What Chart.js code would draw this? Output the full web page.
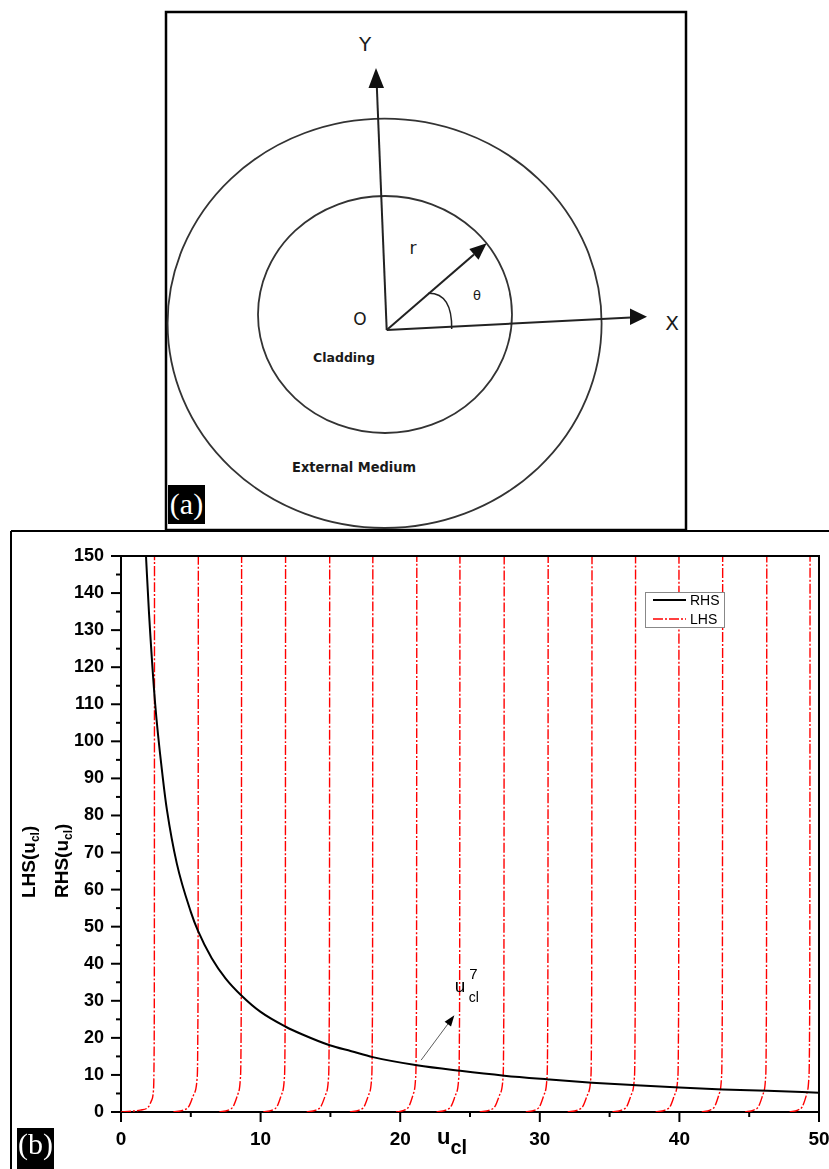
<!DOCTYPE html>
<html lang="en">
<head>
<meta charset="UTF-8">
<title>Cladding geometry and LHS / RHS of the dispersion equation</title>
<script src="https://cdn.jsdelivr.net/npm/chart.js"></script>
<style>
  body { margin: 0; background: #fff; }
  #page { position: relative; width: 829px; height: 1169px; overflow: hidden; }
  #figA, #overlay { position: absolute; left: 0; top: 0; }
  #overlay { pointer-events: none; }
  #chartBox { position: absolute; left: 0; top: 531px; width: 829px; height: 638px; }
  .diag { font-family: "DejaVu Sans", sans-serif; fill: #1a1a1a; }
</style>
</head>
<body>
<div id="page">
  <!-- panel (a): fibre cross section -->
  <svg id="figA" width="829" height="1169">
    <rect x="166" y="12" width="520" height="518" fill="none" stroke="#000" stroke-width="2.5"/>
    <line x1="11" y1="531" x2="829" y2="531" stroke="#000" stroke-width="2"/>
    <line x1="11" y1="531" x2="11" y2="1169" stroke="#000" stroke-width="2"/>

    <ellipse cx="384.6" cy="323.3" rx="217" ry="204.7" fill="none" stroke="#333" stroke-width="1.8"/>
    <ellipse cx="385" cy="314.5" rx="127" ry="118.5" fill="none" stroke="#333" stroke-width="1.8"/>

    <g stroke="#222" stroke-width="2" fill="#111">
      <line x1="386.7" y1="330" x2="376.8" y2="86"/>
      <polygon points="376,68 368.5,88 384,88" stroke="none"/>
      <line x1="386.7" y1="330" x2="631" y2="317.6"/>
      <polygon points="647,316.7 630,308.5 630,325" stroke="none"/>
      <line x1="386.7" y1="330" x2="474" y2="254.4"/>
      <polygon points="486.7,243.3 478.5,259.7 469.3,249.1" stroke="none"/>
      <path d="M 428.3 293.3 C 445 293 452 306 451.7 329" fill="none" stroke-width="1.5"/>
    </g>

    <text class="diag" x="365" y="51" font-size="20" text-anchor="middle">Y</text>
    <text class="diag" x="672" y="330" font-size="20" text-anchor="middle">X</text>
    <text class="diag" x="360" y="324.5" font-size="17" text-anchor="middle">O</text>
    <text class="diag" x="413" y="254" font-size="17" text-anchor="middle">r</text>
    <text class="diag" x="477" y="300" font-size="13" text-anchor="middle">θ</text>
    <text class="diag" x="313" y="362" font-size="13" font-weight="bold" textLength="62" lengthAdjust="spacingAndGlyphs">Cladding</text>
    <text class="diag" x="292" y="472" font-size="13.5" font-weight="bold" textLength="124" lengthAdjust="spacingAndGlyphs">External Medium</text>

    <rect x="168" y="485" width="37" height="39" fill="#000"/>
    <text x="186.5" y="514" font-family="Liberation Serif, serif" font-size="30" fill="#fff" text-anchor="middle">(a)</text>
  </svg>

  <!-- panel (b): the chart -->
  <div id="chartBox"><canvas id="dispChart" width="829" height="638"></canvas></div>

  <svg id="overlay" width="829" height="1169">
    <rect x="17" y="1128" width="37" height="41" fill="#000"/>
    <text x="35.5" y="1154" font-family="Liberation Serif, serif" font-size="30" fill="#fff" text-anchor="middle">(b)</text>
  </svg>
</div>

<script>
// RHS(u_cl)
const rhsX = [1.79, 2.0, 2.45, 3.0, 3.29, 4.0, 5.0, 5.5, 6.5, 7.5, 8.66, 10.0, 11.8, 13.0, 14.95, 16.5, 18.04,
              21.2, 24.3, 27.45, 30.6, 33.74, 36.9, 40.0, 43.1, 46.3, 50.0];
const rhsY = [150, 135, 110, 90, 81.5, 67, 54, 49, 41.5, 36, 31.3, 27, 23, 20.9, 18, 16.4, 14.8,
              12.6, 11.1, 9.8, 8.8, 7.9, 7.2, 6.6, 6.1, 5.7, 5.2];

// LHS(u_cl): one rising branch per pole, drawn up to the top of the axis
const lhsBranchX = [
  [0, 0.7, 1.38, 1.97, 2.2, 2.33, 2.37, 2.39, 2.40],
  [3.75, 4.47, 4.86, 5.25, 5.45, 5.50, 5.525, 5.54],
  [7.05, 7.69, 8.04, 8.39, 8.55, 8.60, 8.625, 8.64],
  [10.19, 10.83, 11.18, 11.53, 11.70, 11.75, 11.775, 11.79],
  [13.30, 13.96, 14.32, 14.69, 14.86, 14.91, 14.935, 14.95],
  [16.40, 17.06, 17.42, 17.78, 17.95, 18.00, 18.025, 18.04],
  [19.70, 20.30, 20.62, 20.95, 21.10, 21.15, 21.175, 21.19],
  [22.60, 23.27, 23.64, 24.01, 24.19, 24.24, 24.265, 24.28],
  [25.70, 26.40, 26.79, 27.17, 27.36, 27.41, 27.435, 27.45],
  [29.00, 29.64, 29.99, 30.34, 30.51, 30.56, 30.585, 30.60],
  [32.00, 32.70, 33.08, 33.46, 33.65, 33.70, 33.725, 33.74],
  [35.20, 35.86, 36.23, 36.59, 36.77, 36.82, 36.845, 36.86],
  [38.30, 38.97, 39.34, 39.70, 39.88, 39.93, 39.955, 39.97],
  [41.60, 42.20, 42.53, 42.86, 43.01, 43.06, 43.085, 43.10],
  [44.70, 45.32, 45.67, 46.01, 46.17, 46.22, 46.245, 46.26],
  [47.90, 48.48, 48.81, 49.13, 49.27, 49.32, 49.345, 49.36]
];
const lhsFirstY = [0, 0.2, 0.5, 1.4, 3.2, 6, 15, 45, 150];
const lhsBranchY = [0, 0.5, 1.5, 5, 9, 20, 55, 150];

const xTicks = [0, 10, 20, 30, 40, 50];
const xMinor = [5, 15, 25, 35, 45];
const yTicks = [0, 10, 20, 30, 40, 50, 60, 70, 80, 90, 100, 110, 120, 130, 140, 150];
const yMinor = [5, 15, 25, 35, 45, 55, 65, 75, 85, 95, 105, 115, 125, 135, 145];

const rhsPoints = rhsX.map((x, i) => ({ x: x, y: rhsY[i] }));
const lhsPoints = [];
lhsBranchX.forEach((xs, b) => {
  const ys = b === 0 ? lhsFirstY : lhsBranchY;
  xs.forEach((x, i) => lhsPoints.push({ x: x, y: ys[i] }));
  lhsPoints.push({ x: xs[xs.length - 1] + 0.01, y: null });
});

const FONT = 'Liberation Sans, Arial, sans-serif';

// draws a run of text pieces (normal + sub/superscripts) from x,y along the baseline
function drawRich(ctx, parts, x, y) {
  let cx = x;
  parts.forEach(p => {
    ctx.font = (p.bold ? 'bold ' : '') + p.size + 'px ' + FONT;
    ctx.fillText(p.t, cx, y + (p.dy || 0));
    cx += ctx.measureText(p.t).width;
  });
}

const decorations = {
  id: 'decorations',
  afterDraw(chart) {
    const { ctx, chartArea: a, scales: { x, y } } = chart;
    ctx.save();
    ctx.strokeStyle = '#000';
    ctx.fillStyle = '#000';

    // top and right frame
    ctx.lineWidth = 2;
    ctx.beginPath();
    ctx.moveTo(a.left, a.top);
    ctx.lineTo(a.right, a.top);
    ctx.lineTo(a.right, a.bottom);
    ctx.stroke();

    // outward tick marks
    const tick = (px, len, horiz) => {
      ctx.beginPath();
      if (horiz) { ctx.moveTo(a.left, px); ctx.lineTo(a.left - len, px); }
      else { ctx.moveTo(px, a.bottom); ctx.lineTo(px, a.bottom + len); }
      ctx.stroke();
    };
    xTicks.forEach(v => tick(x.getPixelForValue(v), 10, false));
    xMinor.forEach(v => tick(x.getPixelForValue(v), 5, false));
    yTicks.forEach(v => tick(y.getPixelForValue(v), 10, true));
    yMinor.forEach(v => tick(y.getPixelForValue(v), 5, true));

    // axis titles
    ctx.textAlign = 'left';
    ctx.textBaseline = 'alphabetic';
    drawRich(ctx, [{ t: 'u', size: 22, bold: true }, { t: 'cl', size: 20, bold: true, dy: 10 }], 437, 613);
    [['LHS(u', 35], ['RHS(u', 68]].forEach(([txt, bx]) => {
      ctx.save();
      ctx.translate(bx, 367);
      ctx.rotate(-Math.PI / 2);
      drawRich(ctx, [{ t: txt, size: 19, bold: true }, { t: 'cl', size: 12, bold: true, dy: 4 },
                     { t: ')', size: 19, bold: true }], 0, 0);
      ctx.restore();
    });

    // annotation: u_cl^7 with arrow
    const ax = x.getPixelForValue(23.9), ay = y.getPixelForValue(32.4);
    ctx.font = '19px ' + FONT;
    ctx.fillText('u', ax, ay);
    ctx.font = '15px ' + FONT;
    ctx.fillText('7', ax + 14.5, ay - 12.5);
    ctx.font = '14px ' + FONT;
    ctx.fillText('cl', ax + 14, ay + 10);

    const x0 = x.getPixelForValue(21.5), y0 = y.getPixelForValue(14.0);
    const x1 = x.getPixelForValue(23.88), y1 = y.getPixelForValue(26.1);
    const ang = Math.atan2(y1 - y0, x1 - x0);
    ctx.lineWidth = 0.8;
    ctx.strokeStyle = '#333';
    ctx.beginPath();
    ctx.moveTo(x0, y0);
    ctx.lineTo(x1 - 9 * Math.cos(ang), y1 - 9 * Math.sin(ang));
    ctx.stroke();
    ctx.beginPath();
    ctx.moveTo(x1, y1);
    ctx.lineTo(x1 - 11 * Math.cos(ang) + 4 * Math.sin(ang), y1 - 11 * Math.sin(ang) - 4 * Math.cos(ang));
    ctx.lineTo(x1 - 11 * Math.cos(ang) - 4 * Math.sin(ang), y1 - 11 * Math.sin(ang) + 4 * Math.cos(ang));
    ctx.closePath();
    ctx.fill();

    // legend box inside the plot
    const lx = 645, ly = 61, lw = 79, lh = 35;
    ctx.fillStyle = '#fff';
    ctx.fillRect(lx, ly, lw, lh);
    ctx.strokeStyle = '#888';
    ctx.lineWidth = 1;
    ctx.strokeRect(lx + 0.5, ly + 0.5, lw, lh);
    chart.data.datasets.forEach((ds, i) => {
      const yy = ly + 8 + i * 19;
      ctx.strokeStyle = ds.borderColor;
      ctx.lineWidth = ds.borderWidth;
      ctx.setLineDash(ds.borderDash || []);
      ctx.beginPath();
      ctx.moveTo(lx + 8, yy);
      ctx.lineTo(lx + 41, yy);
      ctx.stroke();
      ctx.setLineDash([]);
      ctx.fillStyle = '#000';
      ctx.font = '14px ' + FONT;
      ctx.fillText(ds.label, lx + 45, yy + 5);
    });
    ctx.restore();
  }
};

new Chart(document.getElementById('dispChart'), {
  type: 'line',
  data: {
    datasets: [
      {
        label: 'RHS',
        data: rhsPoints,
        borderColor: '#000',
        borderWidth: 2,
        cubicInterpolationMode: 'monotone',
        pointRadius: 0
      },
      {
        label: 'LHS',
        data: lhsPoints,
        borderColor: '#ff0000',
        borderWidth: 1.4,
        borderDash: [10, 2, 2, 2],
        cubicInterpolationMode: 'monotone',
        spanGaps: false,
        pointRadius: 0
      }
    ]
  },
  options: {
    responsive: false,
    animation: false,
    devicePixelRatio: 1,
    layout: { padding: { top: 25, right: 10, left: 0, bottom: 0 } },
    plugins: { legend: { display: false }, tooltip: { enabled: false } },
    scales: {
      x: {
        type: 'linear',
        min: 0,
        max: 50,
        afterBuildTicks: s => { s.ticks = xTicks.map(v => ({ value: v })); },
        afterFit: s => { s.height = 57; s.paddingLeft = 0; s.paddingRight = 0; },
        grid: { display: false, drawTicks: false },
        border: { display: true, color: '#000', width: 2 },
        ticks: { color: '#000', padding: 16, autoSkip: false, maxRotation: 0,
                 font: { family: FONT, size: 19, weight: 'bold' } }
      },
      y: {
        min: 0,
        max: 150,
        afterBuildTicks: s => { s.ticks = yTicks.map(v => ({ value: v })); },
        afterFit: s => { s.width = 121; s.paddingTop = 0; s.paddingBottom = 0; },
        grid: { display: false, drawTicks: false },
        border: { display: true, color: '#000', width: 2 },
        ticks: { color: '#000', padding: 17, autoSkip: false,
                 font: { family: FONT, size: 18, weight: 'bold' } }
      }
    }
  },
  plugins: [decorations]
});
</script>
</body>
</html>
